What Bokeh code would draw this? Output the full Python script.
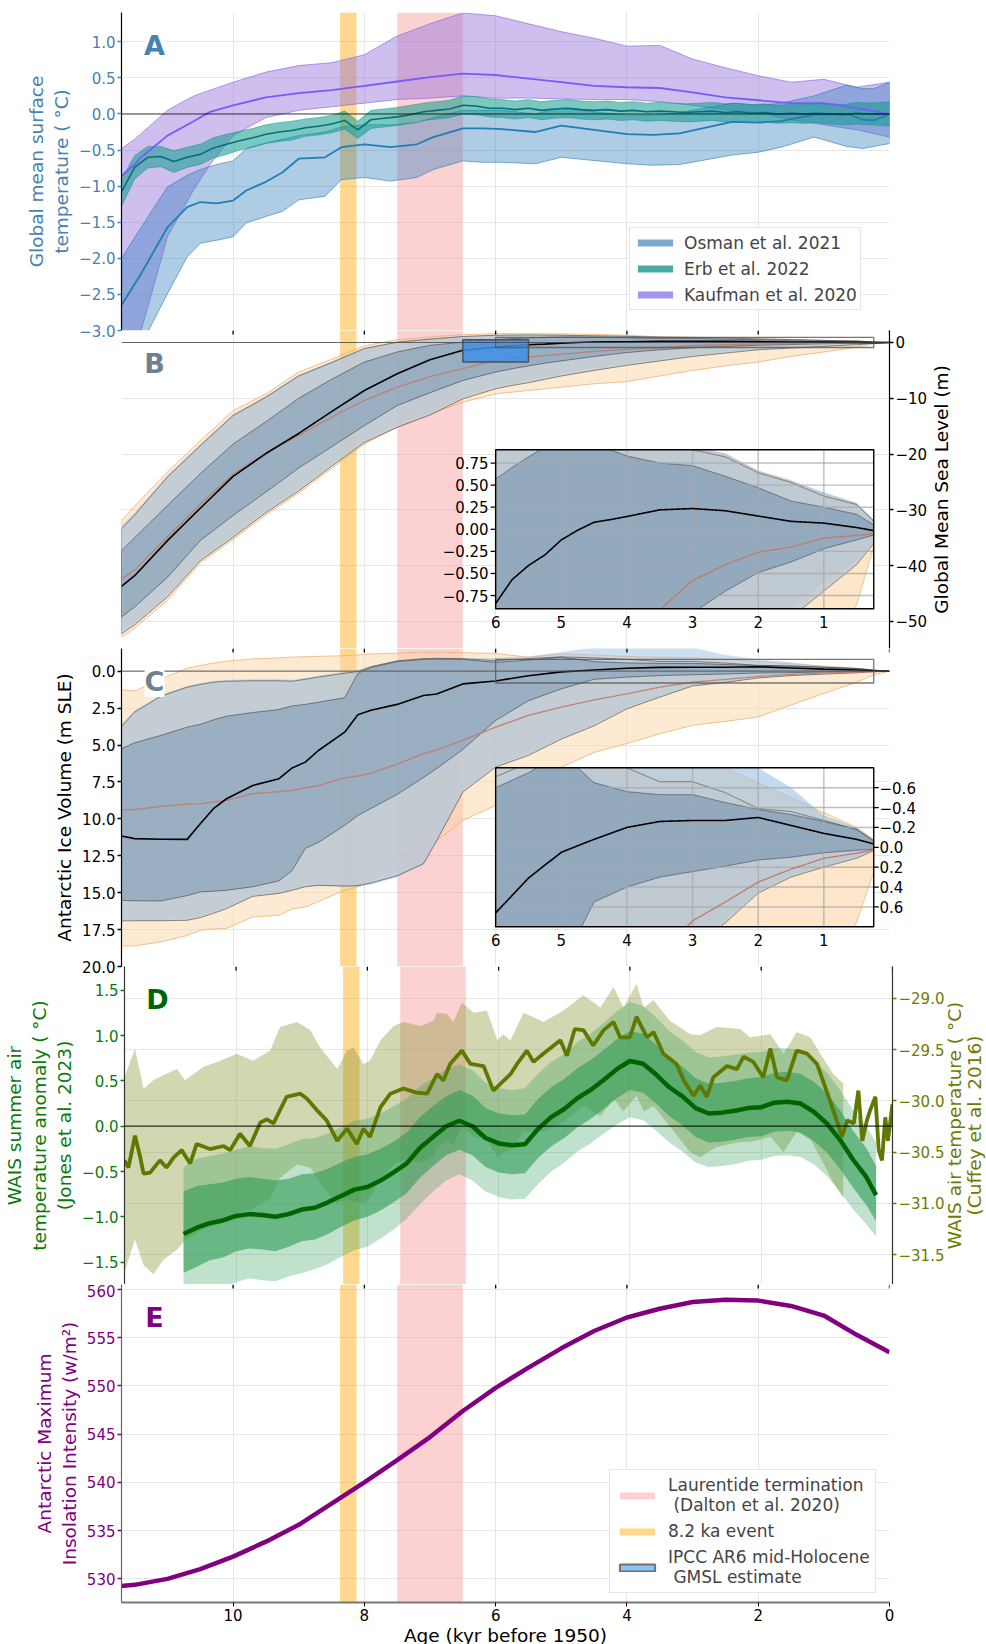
import numpy as np
from bokeh.plotting import figure
from bokeh.models import (Range1d, LinearAxis, FixedTicker, Grid, Label, Legend,
                          LegendItem, Span, CustomJSTickFormatter)
from bokeh.layouts import column, row
from bokeh.embed import file_html
from bokeh.resources import INLINE
from bokeh.core.properties import value

FONT = "DejaVu Sans"
TICK_FS = "15px"
LAB_FS = "18.5px"
LEG_FS = "17px"

# ------------------------------------------------------------------ data
X_TICKS = [10, 8, 6, 4, 2, 0]
LAURENTIDE = (7.5, 6.5)
EVENT_82 = (8.37, 8.12)
IPCC_AGE = (6.5, 5.5)
IPCC_GMSL = (-3.5, 0.5)

# A: global mean surface temperature
KAUF_AGE = [11.7, 11.5, 11.4, 11.0, 10.6, 10.35, 10.0, 9.5, 9.0, 8.5, 8.0, 7.5, 7.0, 6.5,
            6.0, 5.5, 5.0, 4.5, 4.0, 3.5, 3.0, 2.5, 2.0, 1.5, 1.0, 0.5, 0.0]
KAUF_MEAN = [-0.86, -0.70, -0.60, -0.30, -0.10, 0.03, 0.12, 0.23, 0.29, 0.33, 0.39, 0.45, 0.51, 0.56,
             0.54, 0.49, 0.44, 0.39, 0.37, 0.36, 0.30, 0.23, 0.19, 0.15, 0.15, 0.08, 0.0]
KAUF_HI = [-0.48, -0.35, -0.27, 0.05, 0.25, 0.33, 0.44, 0.58, 0.67, 0.71, 0.82, 1.08, 1.25, 1.40,
           1.36, 1.25, 1.14, 1.05, 0.94, 0.95, 0.76, 0.64, 0.53, 0.44, 0.48, 0.37, 0.44]
KAUF_LO = [-4.0, -3.4, -3.0, -1.7, -1.05, -0.7, -0.3, -0.05, 0.05, 0.10, 0.15, 0.20, 0.22, 0.25,
           0.22, 0.22, 0.21, 0.20, 0.20, 0.17, 0.12, 0.06, 0.02, -0.08, -0.15, -0.22, -0.32]

OSM_AGE = [11.7, 11.4, 11.0, 10.7, 10.5, 10.25, 10.0, 9.8, 9.5, 9.25, 9.0, 8.6, 8.35, 8.0, 7.6, 7.2,
           6.95, 6.5, 6.2, 5.9, 5.4, 5.0, 4.0, 3.6, 3.2, 2.4, 2.0, 1.65, 1.15, 0.65, 0.4, 0.24, 0.0]
OSM_MEAN = [-2.65, -2.21, -1.57, -1.29, -1.22, -1.24, -1.20, -1.06, -0.94, -0.81, -0.62, -0.60, -0.46,
            -0.42, -0.46, -0.42, -0.32, -0.20, -0.20, -0.21, -0.25, -0.16, -0.28, -0.29, -0.27, -0.11,
            -0.12, -0.10, -0.01, 0.0, -0.08, -0.09, 0.0]
OSM_HI = [-2.0, -1.57, -1.01, -0.85, -0.77, -0.70, -0.65, -0.48, -0.40, -0.35, -0.30, -0.25, -0.18,
          -0.15, -0.15, -0.12, -0.05, 0.05, 0.05, 0.05, 0.0, 0.08, -0.02, -0.02, 0.02, 0.15, 0.12,
          0.15, 0.25, 0.40, 0.35, 0.35, 0.44]
OSM_LO = [-3.8, -3.2, -2.49, -1.98, -1.79, -1.75, -1.70, -1.51, -1.42, -1.35, -1.19, -1.14, -0.91,
          -0.88, -0.93, -0.88, -0.77, -0.65, -0.67, -0.67, -0.69, -0.60, -0.69, -0.71, -0.70, -0.57,
          -0.53, -0.46, -0.32, -0.45, -0.48, -0.45, -0.41]

ERB_AGE = [11.7, 11.5, 11.3, 11.1, 10.9, 10.7, 10.5, 10.3, 10.1, 9.9, 9.7, 9.5, 9.3, 9.1, 8.9, 8.7,
           8.5, 8.3, 8.1, 7.9, 7.7, 7.5, 7.3, 7.1, 6.9, 6.7, 6.5, 6.3, 6.1, 5.9, 5.7, 5.5, 5.3, 5.1,
           4.9, 4.7, 4.5, 4.3, 4.1, 3.9, 3.7, 3.5, 3.3, 3.1, 2.9, 2.7, 2.5, 2.3, 2.1, 1.9, 1.7, 1.5,
           1.3, 1.1, 0.9, 0.7, 0.5, 0.3, 0.1, 0.0]
ERB_MEAN = [-1.08, -0.74, -0.60, -0.59, -0.66, -0.60, -0.56, -0.47, -0.42, -0.37, -0.33, -0.28, -0.25,
            -0.23, -0.19, -0.17, -0.14, -0.09, -0.22, -0.08, -0.06, -0.04, -0.01, 0.03, 0.05, 0.07,
            0.12, 0.11, 0.08, 0.08, 0.06, 0.08, 0.05, 0.07, 0.08, 0.06, 0.05, 0.06, 0.04, 0.05, 0.03,
            0.04, 0.03, 0.02, 0.03, 0.04, 0.02, 0.03, 0.01, 0.02, 0.00, 0.01, 0.00, 0.01, 0.00, -0.01,
            0.01, 0.00, 0.00, 0.00]
ERB_HI = [-0.90, -0.58, -0.45, -0.45, -0.51, -0.46, -0.42, -0.33, -0.28, -0.24, -0.20, -0.15, -0.12,
          -0.10, -0.07, -0.05, -0.02, 0.04, -0.10, 0.05, 0.07, 0.09, 0.12, 0.15, 0.17, 0.19, 0.25,
          0.24, 0.21, 0.20, 0.18, 0.20, 0.17, 0.19, 0.20, 0.18, 0.17, 0.18, 0.16, 0.17, 0.15, 0.16,
          0.15, 0.14, 0.15, 0.16, 0.14, 0.15, 0.13, 0.14, 0.12, 0.13, 0.13, 0.14, 0.14, 0.13, 0.16,
          0.15, 0.16, 0.17]
ERB_LO = [-1.28, -0.90, -0.75, -0.73, -0.81, -0.74, -0.70, -0.61, -0.56, -0.50, -0.46, -0.41, -0.38,
          -0.36, -0.31, -0.29, -0.26, -0.21, -0.34, -0.20, -0.18, -0.16, -0.13, -0.09, -0.07, -0.05,
          0.00, -0.01, -0.04, -0.05, -0.07, -0.05, -0.08, -0.06, -0.05, -0.07, -0.08, -0.07, -0.09,
          -0.08, -0.10, -0.09, -0.10, -0.11, -0.10, -0.09, -0.11, -0.10, -0.12, -0.11, -0.13, -0.12,
          -0.13, -0.12, -0.14, -0.15, -0.14, -0.15, -0.16, -0.17]

# B: global mean sea level (m)
GMSL_AGE = [11.7, 11.5, 11.0, 10.5, 10.0, 9.5, 9.0, 8.5, 8.0, 7.5, 7.0, 6.5, 6.0, 5.75, 5.5, 5.25,
            5.0, 4.75, 4.5, 4.25, 4.0, 3.5, 3.0, 2.5, 2.0, 1.5, 1.0, 0.5, 0.24, 0.0]
GMSL_MEAN = [-43.7, -41.8, -35.5, -29.7, -24.0, -19.9, -16.3, -12.4, -8.6, -5.6, -3.1, -1.4, -0.84,
             -0.57, -0.41, -0.29, -0.12, -0.01, 0.08, 0.11, 0.145, 0.22, 0.235, 0.21, 0.15, 0.09,
             0.07, 0.02, -0.015, 0.0]
GMSL_MODEL = [-42.4, -40.8, -34.8, -29.0, -23.6, -19.8, -16.6, -13.4, -10.4, -8.0, -6.1, -4.7, -3.2,
              -2.9, -2.6, -2.35, -2.1, -1.85, -1.6, -1.42, -1.25, -0.91, -0.58, -0.40, -0.26, -0.20,
              -0.10, -0.07, -0.05, 0.0]
GMSL_S1_HI = [-37.3, -35.0, -29.2, -23.5, -18.2, -14.2, -10.0, -6.6, -3.5, -1.7, -0.5, 0.06, 0.57,
              0.7, 0.82, 0.93, 1.0, 1.0, 0.97, 0.9, 0.83, 0.75, 0.72, 0.6, 0.47, 0.32, 0.25, 0.17,
              0.05, 0.0]
GMSL_S1_LO = [-49.2, -47.4, -42.1, -35.5, -31.0, -26.8, -22.5, -18.7, -14.9, -11.3, -9.0, -6.8,
              -5.3, -4.7, -4.2, -3.7, -3.3, -2.9, -2.5, -2.15, -1.8, -1.3, -0.95, -0.70, -0.49,
              -0.37, -0.22, -0.12, -0.065, 0.0]
GMSL_S2_HI = [-33.4, -30.9, -24.1, -18.5, -13.1, -9.8, -6.0, -3.6, -1.1, 0.06, 0.6, 1.07, 1.3, 1.33,
              1.35, 1.33, 1.3, 1.25, 1.2, 1.15, 1.1, 0.95, 0.9, 0.82, 0.64, 0.53, 0.375, 0.28, 0.09,
              0.0]
GMSL_S2_LO = [-52.2, -50.6, -45.6, -39.1, -34.9, -30.5, -26.6, -22.2, -17.9, -15.2, -13.0, -10.1,
              -8.3, -7.7, -7.2, -6.6, -6.0, -5.5, -5.0, -4.55, -4.1, -3.3, -2.5, -1.9, -1.3, -1.0,
              -0.7, -0.4, -0.16, 0.0]
GMSL_OR_HI = [-31.9, -29.3, -23.2, -17.6, -12.2, -9.2, -5.3, -3.0, -0.6, 0.5, 1.0, 1.4, 1.6, 1.6,
              1.6, 1.58, 1.55, 1.5, 1.45, 1.38, 1.3, 1.0, 0.93, 0.85, 0.66, 0.55, 0.40, 0.29, 0.10,
              0.0]
GMSL_OR_LO = [-52.8, -51.2, -46.2, -39.5, -35.3, -30.9, -27.0, -22.6, -18.2, -15.2, -12.8, -10.7,
              -9.2, -8.9, -8.6, -8.3, -8.0, -7.7, -7.4, -7.2, -7.0, -6.0, -5.0, -4.2, -3.5, -2.5,
              -1.7, -0.85, -0.2, 0.0]
GMSL_LB_HI = [-32.8, -30.5, -23.8, -18.2, -12.8, -9.6, -5.8, -3.4, -0.9, 0.2, 0.75, 1.15, 1.35, 1.38,
              1.4, 1.4, 1.4, 1.35, 1.3, 1.25, 1.2, 1.05, 0.93, 0.86, 0.66, 0.55, 0.42, 0.30, 0.11,
              0.0]
GMSL_LB_LO = [-51.8, -50.2, -45.2, -38.7, -34.5, -30.1, -26.2, -21.8, -17.5, -14.8, -12.6, -9.7,
              -7.9, -7.3, -6.8, -6.2, -5.6, -5.1, -4.6, -4.2, -3.8, -3.0, -2.3, -1.7, -1.15, -0.9,
              -0.6, -0.35, -0.14, 0.0]

# C: Antarctic ice volume (m SLE)
AIV_AGE = [11.7, 11.5, 11.1, 10.7, 10.5, 10.3, 10.1, 9.7, 9.3, 9.1, 8.9, 8.7, 8.3, 8.1, 7.9, 7.5,
           7.1, 6.9, 6.5, 6.0, 5.5, 5.0, 4.5, 4.0, 3.5, 3.0, 2.5, 2.0, 1.5, 1.0, 0.5, 0.24, 0.0]
AIV_MEAN = [11.16, 11.34, 11.38, 11.39, 10.33, 9.31, 8.64, 7.74, 7.28, 6.55, 6.16, 5.37, 4.13, 2.95,
            2.65, 2.25, 1.65, 1.55, 0.86, 0.66, 0.31, 0.05, -0.08, -0.20, -0.26, -0.27, -0.27, -0.30,
            -0.22, -0.14, -0.08, -0.034, 0.0]
AIV_MODEL = [9.38, 9.38, 9.15, 9.0, 8.98, 8.85, 8.75, 8.3, 8.15, 8.07, 7.9, 7.75, 7.22, 7.1, 6.9,
             6.3, 5.59, 5.35, 4.69, 3.79, 3.0, 2.44, 1.95, 1.53, 1.08, 0.74, 0.55, 0.35, 0.22, 0.11,
             0.06, 0.027, 0.0]
AIV_S1_HI = [5.25, 4.85, 4.35, 3.79, 3.6, 3.3, 3.05, 2.8, 2.6, 2.35, 2.25, 2.1, 1.80, 0.15, -0.25,
             -0.65, -0.8, -0.82, -0.8, -0.6, -0.75, -0.95, -0.65, -0.56, -0.53, -0.53, -0.45, -0.38,
             -0.33, -0.26, -0.18, -0.06, 0.0]
AIV_S1_LO = [15.52, 15.55, 15.56, 15.2, 14.95, 14.9, 14.84, 14.6, 14.2, 13.5, 12.0, 11.6, 10.44,
             9.77, 9.3, 8.34, 7.2, 6.6, 5.3, 3.34, 2.0, 1.2, 0.55, 0.40, 0.30, 0.245, 0.19, 0.128,
             0.10, 0.055, 0.03, 0.02, 0.0]
AIV_S2_HI = [3.74, 2.77, 1.7, 1.08, 0.9, 0.75, 0.68, 0.65, 0.65, 0.68, 0.55, 0.4, 0.14, 0.02, -0.3,
             -0.7, -0.85, -0.87, -0.85, -0.71, -0.85, -0.97, -0.9, -0.8, -0.66, -0.66, -0.55, -0.39,
             -0.36, -0.27, -0.18, -0.07, 0.0]
AIV_S2_LO = [16.91, 16.9, 16.9, 16.87, 16.69, 16.4, 16.08, 15.25, 15.05, 14.84, 14.6, 14.5, 14.55,
             14.52, 14.35, 13.85, 13.04, 11.5, 8.19, 6.5, 5.7, 4.6, 3.7, 2.55, 1.76, 1.0, 0.76,
             0.46, 0.30, 0.2, 0.11, 0.034, 0.0]
AIV_OR_HI = [1.26, 1.35, 0.52, -0.2, -0.38, -0.55, -0.68, -0.83, -0.9, -0.95, -0.98, -1.0, -1.05,
             -1.1, -1.17, -1.22, -1.29, -1.29, -1.25, -1.2, -0.95, -1.17, -1.1, -1.0, -0.95, -0.9,
             -0.8, -0.65, -0.5, -0.35, -0.2, -0.08, 0.0]
AIV_OR_LO = [18.63, 18.6, 18.34, 17.9, 17.55, 17.45, 17.43, 16.64, 16.53, 16.1, 15.97, 15.6, 14.84,
             14.6, 14.28, 12.7, 11.91, 11.5, 10.1, 9.1, 7.7, 6.5, 5.5, 4.9, 4.24, 3.67, 3.4, 3.1,
             2.3, 1.5, 0.75, 0.25, 0.0]
AIV_LB_HI = [3.6, 2.65, 1.6, 1.0, 0.8, 0.65, 0.6, 0.55, 0.55, 0.58, 0.45, 0.3, 0.05, -0.05, -0.35,
             -0.72, -0.87, -0.89, -0.87, -0.9, -1.0, -1.3, -1.6, -1.6, -1.6, -1.6, -1.1, -0.8,
             -0.6, -0.32, -0.2, -0.074, 0.0]
AIV_LB_LO = [16.8, 16.8, 16.8, 16.75, 16.6, 16.3, 16.0, 15.2, 15.0, 14.8, 14.6, 14.55, 14.6, 14.6,
             14.45, 13.95, 13.1, 11.5, 8.1, 6.4, 5.6, 4.5, 3.6, 2.45, 1.7, 0.95, 0.72, 0.44, 0.28,
             0.19, 0.10, 0.03, 0.0]

# D: WAIS temperatures
JONES_AGE = [10.8, 10.6, 10.4, 10.2, 10.0, 9.8, 9.6, 9.4, 9.2, 9.0, 8.8, 8.6, 8.4, 8.2, 8.0, 7.8,
             7.6, 7.4, 7.2, 7.0, 6.8, 6.6, 6.4, 6.2, 6.0, 5.8, 5.6, 5.4, 5.2, 5.0, 4.8, 4.6, 4.4,
             4.2, 4.0, 3.8, 3.6, 3.4, 3.2, 3.0, 2.8, 2.6, 2.4, 2.2, 2.0, 1.8, 1.6, 1.4, 1.2, 1.0,
             0.8, 0.6, 0.4, 0.25]
JONES_MEAN = [-1.19, -1.12, -1.07, -1.04, -0.99, -0.97, -0.98, -1.00, -0.97, -0.92, -0.90, -0.84,
              -0.77, -0.70, -0.67, -0.60, -0.51, -0.41, -0.24, -0.12, 0.00, 0.06, 0.00, -0.13, -0.19,
              -0.21, -0.20, -0.03, 0.10, 0.19, 0.31, 0.40, 0.51, 0.63, 0.72, 0.69, 0.57, 0.43, 0.33,
              0.20, 0.14, 0.15, 0.17, 0.20, 0.21, 0.26, 0.27, 0.25, 0.16, 0.03, -0.15, -0.37, -0.56,
              -0.76]
JONES_IN_HI = [-0.72, -0.66, -0.64, -0.62, -0.58, -0.56, -0.58, -0.60, -0.58, -0.53, -0.52, -0.47,
               -0.40, -0.34, -0.31, -0.25, -0.17, -0.07, 0.10, 0.22, 0.33, 0.40, 0.34, 0.20, 0.14,
               0.12, 0.13, 0.30, 0.43, 0.52, 0.64, 0.73, 0.84, 0.96, 1.05, 1.02, 0.90, 0.76, 0.66,
               0.53, 0.47, 0.48, 0.50, 0.53, 0.54, 0.59, 0.60, 0.58, 0.49, 0.36, 0.18, -0.05, -0.24,
               -0.44]
JONES_IN_LO = [-1.62, -1.55, -1.48, -1.45, -1.38, -1.35, -1.36, -1.38, -1.33, -1.27, -1.25, -1.19,
               -1.11, -1.04, -1.00, -0.93, -0.84, -0.74, -0.57, -0.44, -0.32, -0.26, -0.32, -0.45,
               -0.51, -0.53, -0.52, -0.35, -0.22, -0.13, -0.01, 0.08, 0.19, 0.31, 0.40, 0.37, 0.25,
               0.11, 0.01, -0.12, -0.18, -0.17, -0.15, -0.12, -0.11, -0.06, -0.05, -0.07, -0.16,
               -0.29, -0.47, -0.68, -0.87, -1.05]
JONES_OUT_HI = [-0.45, -0.36, -0.33, -0.30, -0.26, -0.22, -0.24, -0.25, -0.20, -0.14, -0.13, -0.08,
                -0.01, 0.06, 0.08, 0.14, 0.22, 0.30, 0.44, 0.53, 0.63, 0.68, 0.62, 0.48, 0.42, 0.40,
                0.42, 0.58, 0.71, 0.80, 0.93, 1.02, 1.14, 1.27, 1.37, 1.33, 1.20, 1.05, 0.95, 0.82,
                0.76, 0.77, 0.79, 0.81, 0.82, 0.86, 0.86, 0.83, 0.73, 0.59, 0.40, 0.18, 0.00, -0.18]
JONES_OUT_LO = [-1.95, -1.88, -1.82, -1.78, -1.72, -1.68, -1.70, -1.71, -1.66, -1.62, -1.58, -1.52,
                -1.44, -1.37, -1.33, -1.24, -1.14, -1.02, -0.86, -0.72, -0.60, -0.53, -0.60, -0.72,
                -0.78, -0.81, -0.80, -0.64, -0.50, -0.40, -0.28, -0.19, -0.08, 0.02, 0.10, 0.07,
                -0.05, -0.18, -0.28, -0.40, -0.45, -0.44, -0.42, -0.38, -0.37, -0.33, -0.32, -0.34,
                -0.42, -0.55, -0.72, -0.92, -1.08, -1.22]

CUF_AGE = [11.70, 11.64, 11.54, 11.46, 11.41, 11.31, 11.16, 11.06, 10.95, 10.83, 10.70, 10.60, 10.40,
           10.19, 10.09, 9.94, 9.79, 9.63, 9.53, 9.43, 9.23, 9.02, 8.92, 8.77, 8.62, 8.46, 8.31,
           8.16, 8.06, 7.96, 7.80, 7.65, 7.45, 7.25, 7.09, 6.94, 6.84, 6.74, 6.56, 6.43, 6.23, 6.08,
           5.82, 5.72, 5.57, 5.47, 5.32, 5.06, 4.96, 4.84, 4.71, 4.56, 4.40, 4.25, 4.15, 4.00, 3.90,
           3.74, 3.64, 3.49, 3.29, 3.18, 3.03, 2.93, 2.83, 2.73, 2.52, 2.37, 2.27, 2.12, 1.97, 1.86,
           1.76, 1.61, 1.46, 1.30, 1.15, 0.99, 0.85, 0.77, 0.69, 0.59, 0.52, 0.46, 0.39, 0.34, 0.26,
           0.21, 0.16, 0.11, 0.07, 0.00]
CUF_T = [-30.58, -30.65, -30.34, -30.55, -30.71, -30.70, -30.58, -30.65, -30.55, -30.48, -30.61,
         -30.42, -30.47, -30.44, -30.48, -30.32, -30.44, -30.21, -30.18, -30.22, -29.96, -29.93,
         -29.98, -30.09, -30.19, -30.39, -30.27, -30.42, -30.27, -30.35, -30.06, -29.93, -29.88,
         -29.92, -29.93, -29.74, -29.80, -29.64, -29.51, -29.64, -29.66, -29.90, -29.74, -29.64,
         -29.51, -29.62, -29.54, -29.41, -29.56, -29.30, -29.31, -29.46, -29.31, -29.23, -29.38,
         -29.38, -29.18, -29.38, -29.33, -29.54, -29.64, -29.80, -29.95, -29.85, -29.96, -29.77,
         -29.66, -29.69, -29.57, -29.62, -29.77, -29.49, -29.77, -29.80, -29.51, -29.54, -29.64,
         -29.93, -30.19, -30.35, -30.19, -30.22, -29.90, -30.39, -30.19, -30.09, -29.96, -30.48,
         -30.58, -30.16, -30.39, -30.03]
CUF_BAND_AGE = [11.7, 11.54, 11.41, 11.26, 11.11, 10.9, 10.78, 10.5, 10.24, 9.99, 9.74, 9.48, 9.33,
                9.07, 8.87, 8.72, 8.46, 8.31, 8.21, 8.06, 7.96, 7.8, 7.6, 7.45, 7.19, 6.99, 6.94,
                6.79, 6.69, 6.56, 6.38, 6.18, 6.02, 5.93, 5.82, 5.62, 5.32, 5.01, 4.71, 4.45, 4.25,
                4.1, 3.9, 3.79, 3.64, 3.39, 3.08, 2.93, 2.68, 2.32, 2.17, 1.86, 1.66, 1.46, 1.25,
                1.1, 0.9, 0.75]
CUF_HI = [-29.77, -29.49, -29.88, -29.80, -29.75, -29.69, -29.80, -29.67, -29.61, -29.54, -29.61,
          -29.51, -29.28, -29.23, -29.31, -29.48, -29.69, -29.51, -29.48, -29.64, -29.61, -29.41,
          -29.27, -29.23, -29.27, -29.22, -29.14, -29.15, -29.23, -29.04, -29.14, -29.12, -29.41,
          -29.35, -29.41, -29.14, -29.23, -29.12, -28.97, -29.09, -28.89, -29.09, -28.86, -29.09,
          -29.02, -29.22, -29.35, -29.36, -29.28, -29.30, -29.38, -29.35, -29.54, -29.33, -29.38,
          -29.54, -29.74, -29.83]
CUF_LO = [-31.67, -31.35, -31.60, -31.69, -31.55, -31.45, -31.36, -31.25, -31.20, -31.10, -31.05,
          -30.95, -30.75, -30.62, -30.65, -30.80, -31.00, -30.95, -30.98, -31.00, -30.95, -30.75,
          -30.62, -30.58, -30.60, -30.55, -30.45, -30.40, -30.42, -30.25, -30.35, -30.38, -30.55,
          -30.50, -30.48, -30.30, -30.30, -30.20, -30.05, -30.15, -29.98, -30.10, -29.95, -30.10,
          -30.05, -30.25, -30.50, -30.55, -30.45, -30.40, -30.40, -30.35, -30.50, -30.30, -30.38,
          -30.55, -30.80, -30.95]

# E: insolation
INS_AGE = [11.8, 11.5, 11.0, 10.5, 10.0, 9.5, 9.0, 8.5, 8.0, 7.5, 7.0, 6.5, 6.0, 5.5, 5.0, 4.5,
           4.0, 3.5, 3.0, 2.5, 2.0, 1.5, 1.0, 0.5, 0.0]
INS = [529.2, 529.37, 529.99, 531.0, 532.3, 533.85, 535.6, 537.8, 540.0, 542.3, 544.7, 547.4,
       549.8, 551.9, 553.9, 555.7, 557.1, 558.0, 558.7, 558.95, 558.85, 558.3, 557.3, 555.3, 553.5]

# ------------------------------------------------------------------ layout
XR = (11.70, 0.0)
FW, FH = 768, 318
BL, BR = 121, 97
TOTAL_W = 986
OVL = 10                       # overlap between stacked canvases (for edge tick labels)
PXK = FW / (XR[0] - XR[1])
INSET_X = (6.0, 0.24)
INSET_TOP, INSET_BOT = 119.3, 278.3   # px from frame top
GRID_C = "#e6e6e6"

PINK = "#f9a3a3"
ORANGE = "#fdb11d"
NAN1 = [float("nan")]


def fmt(d):
    return CustomJSTickFormatter(code="return tick.toFixed(%d).replace('-', '\u2212');" % d)


def no_default_grids(p):
    for g in list(p.center):
        if isinstance(g, Grid):
            g.visible = False


def make_fig(yr, top=0, bottom=0, right=BR):
    p = figure(frame_width=FW, frame_height=FH, x_range=Range1d(*XR), y_range=yr,
               x_axis_location=None, y_axis_location=None, toolbar_location=None,
               output_backend="svg", min_border_left=BL, min_border_right=right,
               min_border_top=top, min_border_bottom=bottom, outline_line_color=None,
               background_fill_color="white", border_fill_color="white")
    no_default_grids(p)
    p.add_layout(Grid(dimension=0, ticker=FixedTicker(ticks=X_TICKS),
                      grid_line_color=GRID_C, grid_line_width=1))
    return p


def label_fig(width, lines, color):
    """narrow strip holding a vertical axis title (one glyph per line), reading bottom-to-top"""
    f = figure(frame_width=width, frame_height=FH, x_range=Range1d(0, width),
               y_range=Range1d(0, 1), x_axis_location=None, y_axis_location=None,
               toolbar_location=None, output_backend="svg", min_border_left=0,
               min_border_right=0, min_border_top=0, min_border_bottom=0,
               outline_line_color=None, background_fill_alpha=0.0, border_fill_alpha=0.0)
    no_default_grids(f)
    f.text(x=[px for _, px in lines], y=[0.5] * len(lines), text=[t for t, _ in lines],
           angle=np.pi / 2, text_font=value(FONT), text_font_size=value(LAB_FS),
           text_color=color, text_align="center", text_baseline="middle")
    return f


def yaxis(p, side, ticks, dec, color, label, rname="default", spine="black", grid=True,
          label_standoff=4):
    ax = LinearAxis(y_range_name=rname, ticker=FixedTicker(ticks=ticks), formatter=fmt(dec),
                    axis_label=label, axis_line_color=spine, axis_line_width=1.2,
                    major_tick_line_color=color, major_tick_out=4, major_tick_in=0,
                    major_tick_line_width=1.5,
                    minor_tick_line_color=None, major_label_text_color=color,
                    major_label_text_font=FONT, major_label_text_font_size=TICK_FS,
                    major_label_standoff=2, axis_label_standoff=label_standoff,
                    axis_label_text_color=color, axis_label_text_font=FONT,
                    axis_label_text_font_size=LAB_FS, axis_label_text_font_style="normal")
    p.add_layout(ax, side)
    if grid:
        p.add_layout(Grid(dimension=1, ticker=FixedTicker(ticks=ticks), y_range_name=rname,
                          grid_line_color=GRID_C, grid_line_width=1))
    return ax


def top_ticks(p):
    yr = p.y_range
    y0 = yr.end
    y1 = yr.end - (yr.end - yr.start) * 4.0 / FH
    p.segment(x0=X_TICKS, x1=X_TICKS, y0=[y0] * len(X_TICKS), y1=[y1] * len(X_TICKS),
              line_color="black", line_width=1.3)


def vbands(p):
    yr = p.y_range
    lo, hi = min(yr.start, yr.end), max(yr.start, yr.end)
    r1 = p.quad(left=[LAURENTIDE[0]], right=[LAURENTIDE[1]], bottom=[lo], top=[hi],
                fill_color=PINK, fill_alpha=0.5, line_color=None)
    r2 = p.quad(left=[EVENT_82[0]], right=[EVENT_82[1]], bottom=[lo], top=[hi],
                fill_color=ORANGE, fill_alpha=0.5, line_color=None)
    return r1, r2


def band(p, ages, lo, hi, fill, alpha, line=None, lalpha=0.6, lw=0.9, rname="default"):
    xs = list(ages) + list(ages)[::-1]
    ys = list(hi) + list(lo)[::-1]
    return p.patch(x=xs, y=ys, fill_color=fill, fill_alpha=alpha, line_color=line,
                   line_alpha=lalpha, line_width=lw, y_range_name=rname)


def letter(p, txt, color):
    yr = p.y_range
    x = XR[0] + 0.043 * (XR[1] - XR[0])
    y = yr.end - 0.104 * (yr.end - yr.start)
    p.add_layout(Label(x=x, y=y, text=txt, text_font=FONT, text_font_size="27px",
                       text_font_style="bold", text_color=color, text_align="center",
                       text_baseline="middle", background_fill_color="white",
                       background_fill_alpha=1.0))


def inset_range(ylo, yhi, reverse=False):
    ppu = (INSET_BOT - INSET_TOP) / (yhi - ylo)
    if not reverse:
        return Range1d(start=ylo - (FH - INSET_BOT) / ppu, end=yhi + INSET_TOP / ppu)
    return Range1d(start=yhi + (FH - INSET_BOT) / ppu, end=ylo - INSET_TOP / ppu)


SEA_STYLES = dict(
    orange=dict(fill="#fbd5a5", alpha=0.5, line="#f0a868", lalpha=0.7, lw=1.0),
    lblue=dict(fill="#9dbfe3", alpha=0.5, line=None, lalpha=0, lw=0),
    s2=dict(fill="#c0c9d1", alpha=0.75, line="#333333", lalpha=0.6, lw=0.9),
    s1=dict(fill="#7f9bb5", alpha=0.6, line="#333333", lalpha=0.6, lw=0.9),
)


def sea_panel(p, ages, orng, lb, s2, s1, model, mean, rname="default"):
    for (lo, hi), key in ((orng, "orange"), (lb, "lblue"), (s2, "s2"), (s1, "s1")):
        st = SEA_STYLES[key]
        band(p, ages, lo, hi, st["fill"], st["alpha"], st["line"], st["lalpha"], st["lw"], rname)
    p.line(ages, model, line_color="#c27a6a", line_width=1.3, line_alpha=0.9, y_range_name=rname)
    p.line(ages, mean, line_color="black", line_width=1.6, y_range_name=rname)


def draw_inset(p, rname, ylo, yhi, ages, orng, lb, s2, s1, model, mean, yticks, ydec,
               label_side, bottom_val):
    xs = np.linspace(INSET_X[1], INSET_X[0], 1200)
    a = np.asarray(ages, float)[::-1]

    def res(v):
        return np.interp(xs, a, np.asarray(v, float)[::-1])

    def mask(v):
        return np.where((v >= ylo - 1e-9) & (v <= yhi + 1e-9), v, np.nan)

    p.quad(left=[INSET_X[0]], right=[INSET_X[1]], bottom=[ylo], top=[yhi], y_range_name=rname,
           fill_color="white", line_color=None)
    for (lo, hi), key in ((orng, "orange"), (lb, "lblue"), (s2, "s2"), (s1, "s1")):
        st = SEA_STYLES[key]
        l, h = res(lo), res(hi)
        p.varea(x=xs, y1=np.clip(l, ylo, yhi), y2=np.clip(h, ylo, yhi), y_range_name=rname,
                fill_color=st["fill"], fill_alpha=min(1.0, st["alpha"] + 0.1))
        if st["line"]:
            for v in (l, h):
                p.line(x=xs, y=mask(v), y_range_name=rname, line_color=st["line"],
                       line_alpha=st["lalpha"], line_width=st["lw"])
    gx = [6, 5, 4, 3, 2, 1]
    p.segment(x0=gx, x1=gx, y0=[ylo] * len(gx), y1=[yhi] * len(gx), y_range_name=rname,
              line_color="#a8a8a8", line_alpha=0.75, line_width=1.4)
    p.segment(x0=[INSET_X[0]] * len(yticks), x1=[INSET_X[1]] * len(yticks), y0=yticks,
              y1=yticks, y_range_name=rname, line_color="#a8a8a8", line_alpha=0.75,
              line_width=1.4)
    p.line(x=xs, y=mask(res(model)), y_range_name=rname, line_color="#c27a6a", line_width=1.3)
    p.line(x=xs, y=mask(res(mean)), y_range_name=rname, line_color="black", line_width=1.6)
    p.quad(left=[INSET_X[0]], right=[INSET_X[1]], bottom=[ylo], top=[yhi], y_range_name=rname,
           fill_color=None, line_color="black", line_width=1.4)
    labels = [("%.*f" % (ydec, t)).replace("-", "\u2212") for t in yticks]
    tl = 5 / PXK
    if label_side == "left":
        x0 = INSET_X[0]
        p.segment(x0=[x0] * len(yticks), x1=[x0 + tl] * len(yticks), y0=yticks, y1=yticks,
                  y_range_name=rname, line_color="black", line_width=1.3)
        p.text(x=[x0] * len(yticks), y=yticks, text=labels, y_range_name=rname,
               text_font=value(FONT), text_font_size="15px", text_align="right",
               text_baseline="middle", x_offset=-7, text_color="black")
    else:
        # labels sit just right of the inset, partly outside the frame -> use an axis
        x0 = INSET_X[1]
        p.segment(x0=[x0] * len(yticks), x1=[x0 - tl] * len(yticks), y0=yticks, y1=yticks,
                  y_range_name=rname, line_color="black", line_width=1.3)
        ax = LinearAxis(y_range_name=rname, ticker=FixedTicker(ticks=yticks),
                        formatter=fmt(ydec), axis_line_color=None, major_tick_line_color=None,
                        major_tick_out=0, major_tick_in=0, minor_tick_line_color=None,
                        major_label_text_font=FONT, major_label_text_font_size="15px",
                        major_label_text_color="black")
        gap = (XR[1] - x0) * PXK      # px between inset edge and frame edge (negative)
        try:
            ax.major_label_standoff = int(round(gap + 6))
        except Exception:
            ax.major_label_standoff = 0
        p.add_layout(ax, "right")
    p.text(x=gx, y=[bottom_val] * len(gx), text=[str(g) for g in gx], y_range_name=rname,
           text_font=value(FONT), text_font_size="15px", text_align="center",
           text_baseline="middle", y_offset=13, text_color="black")


# ------------------------------------------------------------------ A
A_COL = "#4682b4"
pA = make_fig(Range1d(-3.0, 1.406), top=12, bottom=OVL)
vbands(pA)
yaxis(pA, "left", [-3.0, -2.5, -2.0, -1.5, -1.0, -0.5, 0.0, 0.5, 1.0], 1, A_COL,
      "Global mean surface\ntemperature ( \u00b0C)")
band(pA, KAUF_AGE, KAUF_LO, KAUF_HI, "#9370db", 0.45, "#8060e0", 0.6, 1.0)
band(pA, OSM_AGE, OSM_LO, OSM_HI, "#2b7bba", 0.38, "#2b7bba", 0.6, 1.0)
band(pA, ERB_AGE, ERB_LO, ERB_HI, "#0e9b8c", 0.55, "#0e8f86", 0.6, 0.8)
pA.line(KAUF_AGE, KAUF_MEAN, line_color="#7a5af8", line_width=1.8)
pA.line(OSM_AGE, OSM_MEAN, line_color="#1f7fb4", line_width=1.8)
pA.line(ERB_AGE, ERB_MEAN, line_color="#00707a", line_width=1.6)
pA.add_layout(Span(location=0, dimension="width", line_color="black", line_width=1.2,
                   line_alpha=0.75))
proxA = [pA.quad(left=NAN1, right=NAN1, top=NAN1, bottom=NAN1, fill_color=c, line_color=None)
         for c in ("#7fa8cc", "#4aa9a4", "#a395ef")]
legA = Legend(items=[LegendItem(label=value(t), renderers=[r]) for t, r in
                     zip(["Osman et al. 2021", "Erb et al. 2022", "Kaufman et al. 2020"], proxA)],
              location=(508, 20), label_text_font=FONT, label_text_font_size=LEG_FS,
              glyph_width=44, glyph_height=9, label_standoff=7, spacing=3, padding=3,
              margin=0, label_height=23, border_line_color="#cccccc", border_line_width=1.2)
pA.add_layout(legA)
letter(pA, "A", A_COL)

# ------------------------------------------------------------------ B
B_RB = 40
pB = make_fig(Range1d(-54.84, 2.15), right=B_RB)
pB.border_fill_alpha = 0.0
pB.extra_y_ranges = {"inset": inset_range(-0.9, 0.9)}
vbands(pB)
yaxis(pB, "right", [0, -10, -20, -30, -40, -50], 0, "black", "")
sea_panel(pB, GMSL_AGE, (GMSL_OR_LO, GMSL_OR_HI), (GMSL_LB_LO, GMSL_LB_HI),
          (GMSL_S2_LO, GMSL_S2_HI), (GMSL_S1_LO, GMSL_S1_HI), GMSL_MODEL, GMSL_MEAN)
pB.quad(left=[IPCC_AGE[0]], right=[IPCC_AGE[1]], bottom=[IPCC_GMSL[0]], top=[IPCC_GMSL[1]],
        fill_color="#3f8fe6", fill_alpha=0.85, line_color="#505050", line_width=1.5)
pB.add_layout(Span(location=0, dimension="width", line_color="#444444", line_width=1.2,
                   line_alpha=0.8))
pB.quad(left=[INSET_X[0]], right=[INSET_X[1]], bottom=[-0.9], top=[0.9], fill_color=None,
        line_color="#555555", line_alpha=0.8, line_width=1.3)
draw_inset(pB, "inset", -0.9, 0.9, GMSL_AGE, (GMSL_OR_LO, GMSL_OR_HI), (GMSL_LB_LO, GMSL_LB_HI),
           (GMSL_S2_LO, GMSL_S2_HI), (GMSL_S1_LO, GMSL_S1_HI), GMSL_MODEL, GMSL_MEAN,
           [0.75, 0.5, 0.25, 0.0, -0.25, -0.5, -0.75], 2, "left", -0.9)
top_ticks(pB)
letter(pB, "B", "#708090")
wB = TOTAL_W - BL - FW - B_RB
labB = label_fig(wB, [("Global Mean Sea Level (m)", 51 - B_RB)], "black")
rowB = row(pB, labB, spacing=0)
rowB.margin = (-OVL, 0, 0, 0)

# ------------------------------------------------------------------ C
pC = make_fig(Range1d(20.0, -1.536), bottom=OVL)
pC.extra_y_ranges = {"inset": inset_range(-0.8, 0.8, reverse=True)}
vbands(pC)
yaxis(pC, "left", [0.0, 2.5, 5.0, 7.5, 10.0, 12.5, 15.0, 17.5, 20.0], 1, "black",
      "Antarctic Ice Volume (m SLE)")
sea_panel(pC, AIV_AGE, (AIV_OR_LO, AIV_OR_HI), (AIV_LB_LO, AIV_LB_HI), (AIV_S2_LO, AIV_S2_HI),
          (AIV_S1_LO, AIV_S1_HI), AIV_MODEL, AIV_MEAN)
pC.add_layout(Span(location=0, dimension="width", line_color="#555555", line_width=1.2,
                   line_alpha=0.8))
pC.quad(left=[INSET_X[0]], right=[INSET_X[1]], bottom=[-0.8], top=[0.8], fill_color=None,
        line_color="#555555", line_alpha=0.8, line_width=1.3)
draw_inset(pC, "inset", -0.8, 0.8, AIV_AGE, (AIV_OR_LO, AIV_OR_HI), (AIV_LB_LO, AIV_LB_HI),
           (AIV_S2_LO, AIV_S2_HI), (AIV_S1_LO, AIV_S1_HI), AIV_MODEL, AIV_MEAN,
           [-0.6, -0.4, -0.2, 0.0, 0.2, 0.4, 0.6], 1, "right", 0.8)
top_ticks(pC)
letter(pC, "C", "#708090")

# ------------------------------------------------------------------ D
D_COL = "#0a7a0a"
OLIVE = "#6b7c00"
D_RB = 54
pD = make_fig(Range1d(-1.747, 1.763), right=D_RB)
pD.border_fill_alpha = 0.0
pD.extra_y_ranges = {"cuf": Range1d(-31.79, -28.69)}
vbands(pD)
yaxis(pD, "left", [-1.5, -1.0, -0.5, 0.0, 0.5, 1.0, 1.5], 1, D_COL,
      "WAIS summer air\ntemperature anomaly ( \u00b0C)\n(Jones et al. 2023)", grid=False,
      spine="#333333")
yaxis(pD, "right", [-31.5, -31.0, -30.5, -30.0, -29.5, -29.0], 1, OLIVE, "", rname="cuf",
      spine="#333333")
band(pD, CUF_BAND_AGE, CUF_LO, CUF_HI, "#8a9a3c", 0.4, rname="cuf")
band(pD, JONES_AGE, JONES_OUT_LO, JONES_OUT_HI, "#2e9b55", 0.3)
band(pD, JONES_AGE, JONES_IN_LO, JONES_IN_HI, "#2e9b55", 0.6)
pD.line(JONES_AGE, JONES_MEAN, line_color="#006400", line_width=4.5)
pD.line(CUF_AGE, CUF_T, line_color="#5f7800", line_width=3.8, y_range_name="cuf")
pD.add_layout(Span(location=0, dimension="width", line_color="black", line_width=1.2,
                   line_alpha=0.8))
top_ticks(pD)
letter(pD, "D", "#006400")
wD = TOTAL_W - BL - FW - D_RB
labD = label_fig(wD, [("WAIS air temperature ( \u00b0C)", 61 - D_RB),
                      ("(Cuffey et al. 2016)", 81 - D_RB)], OLIVE)
rowD = row(pD, labD, spacing=0)
rowD.margin = (-OVL, 0, 0, 0)

# ------------------------------------------------------------------ E
E_COL = "#800080"
pE = make_fig(Range1d(527.54, 560.52), bottom=42)
pink_r, orange_r = vbands(pE)
yaxis(pE, "left", [530, 535, 540, 545, 550, 555, 560], 0, E_COL,
      "Antarctic Maximum\nInsolation Intensity (w/m\u00b2)", spine="#666666")
xax = LinearAxis(ticker=FixedTicker(ticks=X_TICKS), formatter=fmt(0),
                 axis_label="Age (kyr before 1950)", axis_line_color="#777777",
                 axis_line_width=1.8, major_tick_line_color="black", major_tick_out=4,
                 major_tick_in=0, minor_tick_line_color=None, major_label_text_color="black",
                 major_label_text_font=FONT, major_label_text_font_size=TICK_FS,
                 major_label_standoff=2, axis_label_standoff=1, axis_label_text_font=FONT,
                 axis_label_text_font_size=LAB_FS, axis_label_text_font_style="normal",
                 axis_label_text_color="black")
pE.add_layout(xax, "below")
pE.line(INS_AGE, INS, line_color=E_COL, line_width=4.5)
top_ticks(pE)
prox_ipcc = pE.quad(left=NAN1, right=NAN1, top=NAN1, bottom=NAN1, fill_color="#88c4fc",
                    line_color="#707070", line_width=2)
legE = Legend(items=[LegendItem(label=value("Laurentide termination\n (Dalton et al. 2020)"),
                                renderers=[pink_r]),
                     LegendItem(label=value("8.2 ka event"), renderers=[orange_r]),
                     LegendItem(label=value("IPCC AR6 mid-Holocene\n GMSL estimate"),
                                renderers=[prox_ipcc])],
              location=(488, 9), label_text_font=FONT, label_text_font_size=LEG_FS,
              glyph_width=44, glyph_height=9, label_standoff=9, spacing=6, padding=5,
              margin=0, border_line_color="#cccccc", border_line_width=1.2)
pE.add_layout(legE)
letter(pE, "E", E_COL)

layout = column(pA, rowB, pC, rowD, pE, spacing=0)
open("out.html", "w").write(file_html(layout, INLINE, title="Holocene records"))
